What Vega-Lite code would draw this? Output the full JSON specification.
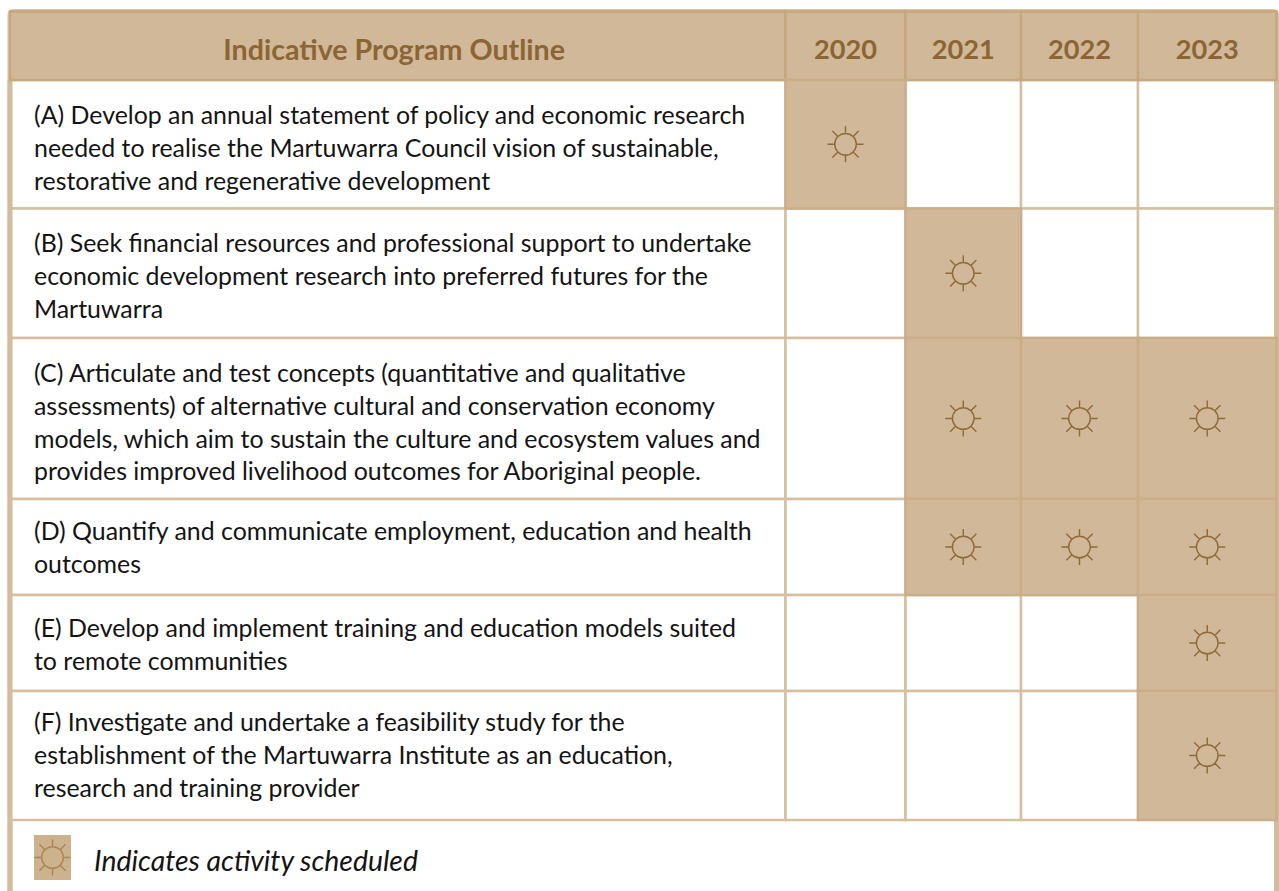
{
"$schema":"https://vega.github.io/schema/vega-lite/v6.json",
"width":1279,"height":891,"padding":0,"autosize":{"type":"none"},"background":"white",
"config":{"view":{"stroke":null},"text":{"font":"Lato"}},
"resolve":{"scale":{"stroke":"independent"}},
"datasets":{
"frame":[{"col0":0,"col1":8,"row0":0,"row1":10}],
"sides":[{"col0":0,"row0":1,"row1":10},{"col0":8,"row0":1,"row1":10}],
"cells":[
{"part":"Outline","col0":0,"col1":4,"row0":0,"row1":1,"status":"header"},
{"part":"2020","col0":4,"col1":5,"row0":0,"row1":1,"status":"header"},
{"part":"2021","col0":5,"col1":6,"row0":0,"row1":1,"status":"header"},
{"part":"2022","col0":6,"col1":7,"row0":0,"row1":1,"status":"header"},
{"part":"2023","col0":7,"col1":8,"row0":0,"row1":1,"status":"header"},
{"part":"A","col0":0,"col1":4,"row0":1,"row1":2,"status":"empty"},
{"part":"A2020","col0":4,"col1":5,"row0":1,"row1":2,"status":"scheduled"},
{"part":"A2021","col0":5,"col1":6,"row0":1,"row1":2,"status":"empty"},
{"part":"A2022","col0":6,"col1":7,"row0":1,"row1":2,"status":"empty"},
{"part":"A2023","col0":7,"col1":8,"row0":1,"row1":2,"status":"empty"},
{"part":"B","col0":0,"col1":4,"row0":2,"row1":3,"status":"empty"},
{"part":"B2020","col0":4,"col1":5,"row0":2,"row1":3,"status":"empty"},
{"part":"B2021","col0":5,"col1":6,"row0":2,"row1":3,"status":"scheduled"},
{"part":"B2022","col0":6,"col1":7,"row0":2,"row1":3,"status":"empty"},
{"part":"B2023","col0":7,"col1":8,"row0":2,"row1":3,"status":"empty"},
{"part":"C","col0":0,"col1":4,"row0":3,"row1":4,"status":"empty"},
{"part":"C2020","col0":4,"col1":5,"row0":3,"row1":4,"status":"empty"},
{"part":"C2021","col0":5,"col1":6,"row0":3,"row1":4,"status":"scheduled"},
{"part":"C2022","col0":6,"col1":7,"row0":3,"row1":4,"status":"scheduled"},
{"part":"C2023","col0":7,"col1":8,"row0":3,"row1":4,"status":"scheduled"},
{"part":"D","col0":0,"col1":4,"row0":4,"row1":5,"status":"empty"},
{"part":"D2020","col0":4,"col1":5,"row0":4,"row1":5,"status":"empty"},
{"part":"D2021","col0":5,"col1":6,"row0":4,"row1":5,"status":"scheduled"},
{"part":"D2022","col0":6,"col1":7,"row0":4,"row1":5,"status":"scheduled"},
{"part":"D2023","col0":7,"col1":8,"row0":4,"row1":5,"status":"scheduled"},
{"part":"E","col0":0,"col1":4,"row0":5,"row1":6,"status":"empty"},
{"part":"E2020","col0":4,"col1":5,"row0":5,"row1":6,"status":"empty"},
{"part":"E2021","col0":5,"col1":6,"row0":5,"row1":6,"status":"empty"},
{"part":"E2022","col0":6,"col1":7,"row0":5,"row1":6,"status":"empty"},
{"part":"E2023","col0":7,"col1":8,"row0":5,"row1":6,"status":"scheduled"},
{"part":"F","col0":0,"col1":4,"row0":6,"row1":7,"status":"empty"},
{"part":"F2020","col0":4,"col1":5,"row0":6,"row1":7,"status":"empty"},
{"part":"F2021","col0":5,"col1":6,"row0":6,"row1":7,"status":"empty"},
{"part":"F2022","col0":6,"col1":7,"row0":6,"row1":7,"status":"empty"},
{"part":"F2023","col0":7,"col1":8,"row0":6,"row1":7,"status":"scheduled"}
],
"swatch":[{"col0":1,"col1":2,"row0":8,"row1":9}],
"suns":[
{"col0":4.5,"row0":1.5,"tone":"table"},
{"col0":5.5,"row0":2.5,"tone":"table"},
{"col0":5.5,"row0":3.5,"tone":"table"},
{"col0":6.5,"row0":3.5,"tone":"table"},
{"col0":7.5,"row0":3.5,"tone":"table"},
{"col0":5.5,"row0":4.5,"tone":"table"},
{"col0":6.5,"row0":4.5,"tone":"table"},
{"col0":7.5,"row0":4.5,"tone":"table"},
{"col0":7.5,"row0":5.5,"tone":"table"},
{"col0":7.5,"row0":6.5,"tone":"table"},
{"col0":1.5,"row0":8.5,"tone":"legend"}
],
"headOutline":[{"label":"Indicative Program Outline","col0":3.434,"row0":0.575}],
"headYears":[
{"label":"2020","col0":4.5,"row0":0.575},
{"label":"2021","col0":5.5,"row0":0.575},
{"label":"2022","col0":6.5,"row0":0.575},
{"label":"2023","col0":7.5,"row0":0.575}
],
"tasks":[
{"label":"(A) Develop an annual statement of policy and economic research\nneeded to realise the Martuwarra Council vision of sustainable,\nrestorative and regenerative development","col0":1,"row0":1.29},
{"label":"(B) Seek financial resources and professional support to undertake\neconomic development research into preferred futures for the\nMartuwarra","col0":1,"row0":2.284},
{"label":"(C) Articulate and test concepts (quantitative and qualitative\nassessments) of alternative cultural and conservation economy\nmodels, which aim to sustain the culture and ecosystem values and\nprovides improved livelihood outcomes for Aboriginal people.","col0":1,"row0":3.231},
{"label":"(D) Quantify and communicate employment, education and health\noutcomes","col0":1,"row0":4.356},
{"label":"(E) Develop and implement training and education models suited\nto remote communities","col0":1,"row0":5.367},
{"label":"(F) Investigate and undertake a feasibility study for the\nestablishment of the Martuwarra Institute as an education,\nresearch and training provider","col0":1,"row0":6.258}
],
"note":[{"label":"Indicates activity scheduled","col0":3,"row0":8.6}]
},
"encoding":{
"x":{"field":"col0","type":"quantitative","axis":null,"scale":{"type":"linear","domain":[0,1,2,3,4,5,6,7,8],"range":[10,34,71,94,785.5,905.5,1021,1138,1276.5],"nice":false,"zero":false}},
"y":{"field":"row0","type":"quantitative","axis":null,"scale":{"type":"linear","domain":[0,1,2,3,4,5,6,7,8,9,10],"range":[11.5,80,208.5,338,499,595,691,820,835,880,900],"nice":false,"zero":false}}
},
"layer":[
{"data":{"name":"frame"},"mark":{"type":"rect","fill":null,"stroke":"#D8C4A8","strokeWidth":5,"cornerRadius":3},
 "encoding":{"x2":{"field":"col1"},"y2":{"field":"row1"}}},
{"data":{"name":"cells"},"transform":[{"filter":"datum.status === 'empty'"}],"mark":{"type":"rect","strokeWidth":2.5,"fill":"#FFFFFF","stroke":"#D5BF9F"},
 "encoding":{"x2":{"field":"col1"},"y2":{"field":"row1"}}},
{"data":{"name":"sides"},"mark":{"type":"rule","stroke":"#D3BC9C","strokeWidth":5},
 "encoding":{"y2":{"field":"row1"}}},
{"data":{"name":"cells"},"transform":[{"filter":"datum.status !== 'empty'"}],"mark":{"type":"rect","strokeWidth":2.5,"fill":"#D0B898"},
 "encoding":{"x2":{"field":"col1"},"y2":{"field":"row1"},
 "stroke":{"field":"status","type":"nominal","legend":null,"scale":{"domain":["header","scheduled"],"range":["#C6A77E","#CBAE87"]}}}},
{"data":{"name":"swatch"},"mark":{"type":"rect","fill":"#CDB28E"},
 "encoding":{"x2":{"field":"col1"},"y2":{"field":"row1"}}},
{"data":{"name":"suns"},"mark":{"type":"point","filled":false,"strokeWidth":1.4,"size":1296,"opacity":1,
 "shape":"M0.6,0A0.6,0.6,0,1,1,-0.6,0A0.6,0.6,0,1,1,0.6,0ZM0.6,0L1,0M-0.6,0L-1,0M0,0.6L0,1M0,-0.6L0,-1M0.424,0.424L0.73,0.73M-0.424,0.424L-0.73,0.73M0.424,-0.424L0.73,-0.73M-0.424,-0.424L-0.73,-0.73"},
 "encoding":{"stroke":{"field":"tone","type":"nominal","legend":null,"scale":{"domain":["table","legend"],"range":["#8F6A3A","#A98654"]}}}},
{"data":{"name":"headOutline"},"mark":{"type":"text","font":"Lato","fontWeight":"bold","fontSize":28.6,"color":"#8C6534","align":"center","baseline":"middle"},
 "encoding":{"text":{"field":"label","type":"nominal"}}},
{"data":{"name":"headYears"},"mark":{"type":"text","font":"Lato","fontWeight":"bold","fontSize":27.2,"color":"#8C6534","align":"center","baseline":"middle"},
 "encoding":{"text":{"field":"label","type":"nominal"}}},
{"data":{"name":"tasks"},"mark":{"type":"text","font":"Lato","fontSize":24.9,"color":"#141414","align":"left","baseline":"middle","lineBreak":"\n","lineHeight":32.7},
 "encoding":{"text":{"field":"label","type":"nominal"}}},
{"data":{"name":"note"},"mark":{"type":"text","font":"Lato","fontStyle":"italic","fontSize":28.4,"color":"#141414","align":"left","baseline":"middle"},
 "encoding":{"text":{"field":"label","type":"nominal"}}}
]
}
